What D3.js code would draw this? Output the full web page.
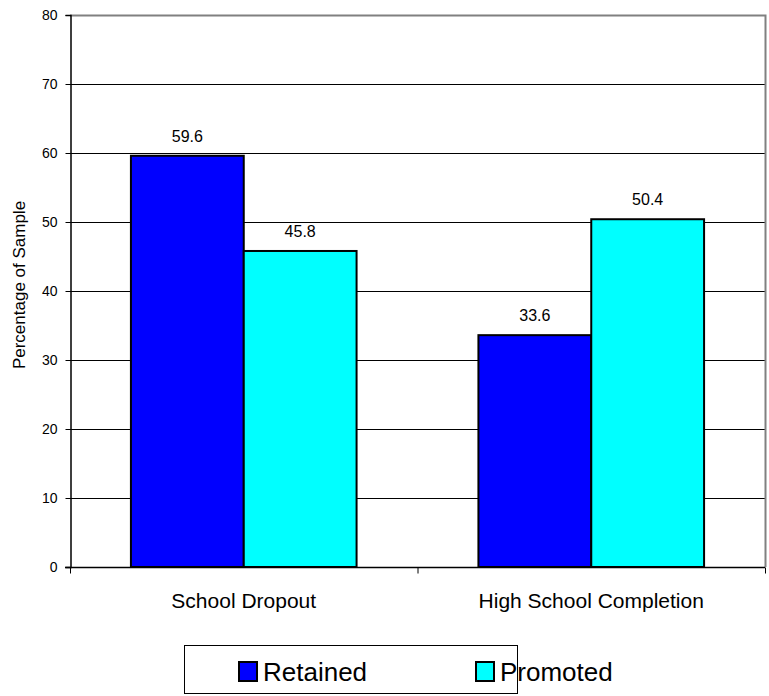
<!DOCTYPE html>
<meta charset="utf-8" />
<html>
<style>
  body { margin: 0; background: #fff; }
  text { font-family: "Liberation Sans", Arial, sans-serif; }
</style>
<body>
<svg width="769" height="696"></svg>
<script src="https://d3js.org/d3.v7.min.js"></script>
<script>
  // chart data
  var categories = ["School Dropout", "High School Completion"];
  var seriesNames = ["Retained", "Promoted"];
  var retained = [59.6, 33.6];
  var promoted = [45.8, 50.4];
  var yTicks = [0, 10, 20, 30, 40, 50, 60, 70, 80];
  var colors = ["#0000ff", "#00ffff"];

  var svg = d3.select("svg");
  var pLeft = 70, pTop = 15, pRight = 765, pBottom = 567;

  var x0 = d3.scaleBand().domain(categories).range([pLeft, pRight]).paddingInner(0).paddingOuter(0);
  var x1 = d3.scaleBand().domain(seriesNames).range([0, x0.bandwidth()]).paddingInner(0).paddingOuter(0.54);
  var y = d3.scaleLinear().domain([0, 80]).range([pBottom, pTop]);

  // gridlines
  svg.append("g")
    .selectAll("line")
    .data(yTicks.filter(function (d) { return d > 0 && d < 80; }))
    .enter().append("line")
    .attr("x1", pLeft).attr("x2", pRight)
    .attr("y1", function (d) { return y(d) + 0.5; })
    .attr("y2", function (d) { return y(d) + 0.5; })
    .attr("stroke", "#000").attr("stroke-width", 1);

  // plot border top/right in gray
  svg.append("path")
    .attr("d", "M" + pLeft + "," + (pTop + 0.5) + "H" + (pRight + 0.5) + "V" + pBottom)
    .attr("fill", "none").attr("stroke", "#808080").attr("stroke-width", 2);

  // bars
  var rows = categories.map(function (c, i) {
    return [{ cat: c, s: seriesNames[0], v: retained[i] }, { cat: c, s: seriesNames[1], v: promoted[i] }];
  });

  var groups = svg.append("g").selectAll("g")
    .data(rows).enter().append("g")
    .attr("transform", function (d) { return "translate(" + x0(d[0].cat) + ",0)"; });

  groups.selectAll("rect")
    .data(function (d) { return d; })
    .enter().append("rect")
    .attr("x", function (d) { return x1(d.s); })
    .attr("y", function (d) { return y(d.v); })
    .attr("width", x1.bandwidth())
    .attr("height", function (d) { return y(0) - y(d.v); })
    .attr("fill", function (d, i) { return colors[i]; })
    .attr("stroke", "#000").attr("stroke-width", 2);

  groups.selectAll("text")
    .data(function (d) { return d; })
    .enter().append("text")
    .attr("x", function (d) { return x1(d.s) + x1.bandwidth() / 2; })
    .attr("y", function (d) { return y(d.v) - 14; })
    .attr("text-anchor", "middle")
    .attr("font-size", "16px")
    .text(function (d) { return d.v.toFixed(1); });

  // y axis
  var yAxis = svg.append("g")
    .attr("transform", "translate(" + (pLeft + 0.5) + ",0)")
    .call(d3.axisLeft(y).tickValues(yTicks).tickSize(5).tickPadding(8));
  yAxis.select(".domain").attr("stroke", "#000").attr("stroke-width", 1.5);
  yAxis.selectAll(".tick line").attr("stroke", "#000");
  yAxis.selectAll("text").attr("font-size", "14px").attr("font-family", "Liberation Sans, Arial, sans-serif").attr("fill", "#000");

  // x axis
  var xAxis = svg.append("g")
    .attr("transform", "translate(0," + (pBottom + 0.5) + ")");
  xAxis.append("line").attr("x1", pLeft - 5).attr("x2", pRight).attr("stroke", "#000").attr("stroke-width", 1.5);
  xAxis.selectAll(".tk")
    .data([pLeft, x0(categories[1]), pRight])
    .enter().append("line")
    .attr("x1", function (d) { return d + 0.5; }).attr("x2", function (d) { return d + 0.5; })
    .attr("y1", 0).attr("y2", 6).attr("stroke", "#000");
  xAxis.selectAll("text")
    .data(categories).enter().append("text")
    .attr("x", function (d) { return x0(d) + x0.bandwidth() / 2; })
    .attr("y", 40)
    .attr("text-anchor", "middle")
    .attr("font-size", "21px")
    .text(function (d) { return d; });

  // y label
  svg.append("text")
    .attr("transform", "translate(25,285) rotate(-90)")
    .attr("text-anchor", "middle")
    .attr("font-size", "17px")
    .text("Percentage of Sample");

  // legend
  var lg = svg.append("g").attr("transform", "translate(184,645)");
  lg.append("rect").attr("x", 0.5).attr("y", 0.5).attr("width", 333).attr("height", 48)
    .attr("fill", "#fff").attr("stroke", "#000").attr("stroke-width", 1);
  var items = lg.selectAll("g.item").data(seriesNames).enter().append("g")
    .attr("transform", function (d, i) { return "translate(" + [55, 292][i] + ",0)"; });
  items.append("rect")
    .attr("x", 0).attr("y", 17).attr("width", 18).attr("height", 19)
    .attr("fill", function (d, i) { return colors[i]; })
    .attr("stroke", "#000").attr("stroke-width", 2);
  items.append("text")
    .attr("x", 24).attr("y", 36)
    .attr("font-size", "26px")
    .text(function (d) { return d; });
</script>
</body>
</html>
